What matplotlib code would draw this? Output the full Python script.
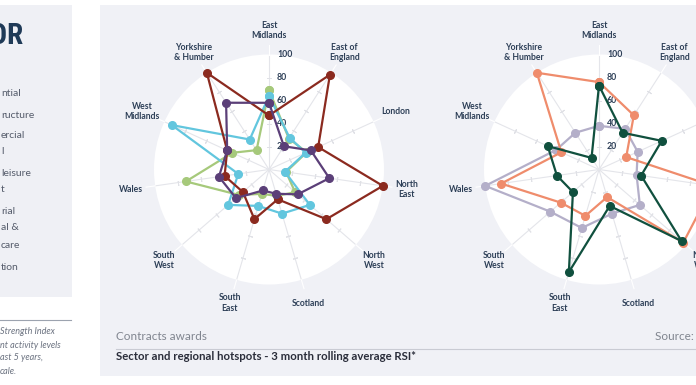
import numpy as np
import matplotlib
matplotlib.use('Agg')
import matplotlib.pyplot as plt
from matplotlib.patches import Rectangle

plt.rcParams['font.family'] = ['Lato', 'DejaVu Sans']

regions = ['East\nMidlands', 'East of\nEngland', 'London', 'North\nEast', 'North\nWest',
           'Scotland', 'South\nEast', 'South\nWest', 'Wales', 'West\nMidlands', 'Yorkshire\n& Humber']
ticks = [20, 40, 60, 80, 100]

# left radar
red = [47, 98, 47, 100, 66, 27, 45, 30, 39, 40, 100]
purple = [58, 24, 40, 53, 33, 22, 19, 38, 44, 40, 69]
blue = [64, 33, 35, 14, 47, 40, 33, 47, 27, 93, 31]
green = [69, 32, 36, 15, 30, 24, 22, 34, 73, 35, 20]

# right radar
lavender = [38, 42, 37, 33, 47, 40, 53, 56, 100, 41, 38]
salmon = [76, 56, 26, 100, 97, 25, 42, 44, 86, 36, 100]
dkgreen = [73, 38, 60, 37, 95, 33, 93, 30, 37, 49, 12]

side_items = [('ntial', 93), ('ructure', 115), ('ercial', 136), ('l', 152), ('leisure', 173),
              ('t', 189), ('rial', 211), ('al &', 228), ('care', 246), ('tion', 268)]
note_lines = [('Strength Index', 331), ('nt activity levels', 345), ('ast 5 years,', 358), ('cale.', 372)]

W, H = 696, 385
navy = '#2d3f57'
fig = plt.figure(figsize=(W / 100, H / 100), dpi=100)
fig.patch.set_facecolor('white')
bg = fig.add_axes([0, 0, 1, 1])
bg.set_xlim(0, W)
bg.set_ylim(H, 0)
bg.axis('off')
bg.add_patch(Rectangle((0, 5), 72, 292, color='#eff0f5', lw=0))
bg.add_patch(Rectangle((100, 5), 596, 371, color='#f0f1f6', lw=0))

bg.text(23, 36, 'SECTOR', ha='right', va='center', fontsize=21, fontweight='bold', color='#1f3a57',
        family=['Roboto Condensed', 'Open Sans Condensed', 'Liberation Sans Narrow', 'Roboto'])
for s, y in side_items:
    bg.text(1, y, s, ha='left', va='center', fontsize=7.5, color='#555c6b')
bg.plot([0, 71], [320, 320], color='#9ca3af', lw=0.8)
for s, y in note_lines:
    bg.text(0, y, s, ha='left', va='center', fontsize=6.5, style='italic', color='#6b7280')

bg.text(116, 336, 'Contracts awards', ha='left', va='center', fontsize=8.5, color='#80858f')
bg.text(655, 336, 'Source: Glenigan', ha='left', va='center', fontsize=8.5, color='#80858f')
bg.plot([116, 696], [349, 349], color='#c9cbd3', lw=0.8)
bg.text(116, 357, 'Sector and regional hotspots - 3 month rolling average RSI*', ha='left', va='center',
        fontsize=8.2, fontweight='bold', color='#2a2d3a')

angles = np.arange(len(regions)) * 2 * np.pi / len(regions)


def radar(cx, series):
    ax = fig.add_axes([(cx - 115) / W, (H - 169.5 - 115) / H, 230 / W, 230 / H], projection='polar')
    ax.set_theta_zero_location('N')
    ax.set_theta_direction(-1)
    ax.set_ylim(0, 100)
    ax.set_xticks([])
    ax.set_yticks([])
    ax.spines['polar'].set_visible(False)
    ax.set_facecolor('white')
    for a in angles:
        ax.plot([a, a], [0, 100], color='#e4e5ea', lw=0.8, zorder=1)
        ax.plot([a, a], [100, 108], color='white', lw=0.8, clip_on=False, zorder=1)
        ax.plot([a] * 4, ticks[:-1], ls='none', marker=(2, 2, 90 - np.degrees(a)), ms=3.5,
                color='#e0e1e6', mew=0.7, zorder=1)
    for t in ticks:
        ax.annotate(str(t), (0, t), xytext=(8, 0), textcoords='offset pixels', ha='left', va='center',
                    fontsize=6.3, color=navy, fontweight='bold', zorder=1.5, annotation_clip=False)
    for a, name in zip(angles, regions):
        ax.text(a, 121, name, ha='center', va='center', fontsize=6.2, fontweight='bold', color=navy,
                linespacing=1.2, clip_on=False)
    for vals, col in series:
        th = np.append(angles, angles[0])
        r = np.append(vals, vals[0])
        ax.plot(th, r, color=col, lw=1.6, marker='o', ms=5.5, clip_on=False, zorder=2)
    return ax


radar(269, [(green, '#a6c97b'), (blue, '#62c6de'), (red, '#8b2a1f'), (purple, '#5b3f78')])
radar(599, [(lavender, '#b4afc9'), (salmon, '#ef8c6c'), (dkgreen, '#10503e')])

fig.savefig('out.png', dpi=100, facecolor='white')
